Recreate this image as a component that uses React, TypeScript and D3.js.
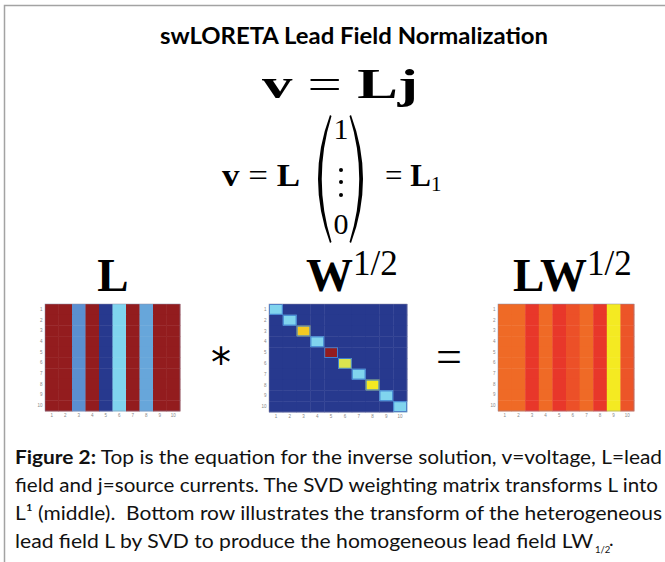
import React, { useEffect, useRef } from 'react'
import * as d3 from 'd3'

// values on a 0..1 colour scale (jet-like)
const ticks = [1, 2, 3, 4, 5, 6, 7, 8, 9, 10]
const leadField = [1, 1, 0.3, 1, 0, 0.42, 1, 0.34, 1, 1]
const weightDiag = [0.42, 0.42, 0.64, 0.42, 1, 0.56, 0.42, 0.6, 0.42, 0.42]
const weighted = [0.75, 0.75, 0.87, 0.75, 0.87, 0.81, 0.75, 0.87, 0.6, 0.8]

const captionLines = [
  ['Figure 2:', ' Top is the equation for the inverse solution, v=voltage, L=lead'],
  ['', 'field and j=source currents. The SVD weighting matrix transforms L into'],
  ['', 'L¹ (middle).\u00a0 Bottom row illustrates the transform of the heterogeneous'],
  ['', 'lead field L by SVD to produce the homogeneous lead field LW'],
]
const captionWidths = [647, 643, 647, 578]

const colour = d3
  .scaleLinear<string>()
  .domain([0, 0.3, 0.42, 0.6, 0.75, 0.87, 1])
  .range(['#27398e', '#5b8fd0', '#80d4ee', '#f4ea22', '#ef6a26', '#e8372a', '#931c1e'])

const App = () => {
  const svgRef = useRef<SVGSVGElement>(null)

  useEffect(() => {
    const svg = d3.select(svgRef.current)
    svg.selectAll('*').remove()

    // frame
    svg.append('path')
      .attr('d', 'M4.5,562 L4.5,5.5 L665,5.5')
      .attr('fill', 'none')
      .attr('stroke', '#a3a3a3')
      .attr('stroke-width', 1.5)

    // title
    svg.append('text')
      .attr('x', 354).attr('y', 44)
      .attr('text-anchor', 'middle')
      .attr('font-family', 'Lato, "Open Sans", sans-serif')
      .attr('font-weight', 'bold')
      .attr('font-size', 23)
      .attr('textLength', 388)
      .attr('lengthAdjust', 'spacingAndGlyphs')
      .text('swLORETA Lead Field Normalization')

    const serif = '"Liberation Serif", "DejaVu Serif", serif'

    // v = Lj
    const eq1 = svg.append('text')
      .attr('x', 262).attr('y', 98)
      .attr('font-family', serif)
      .attr('font-size', 42)
      .attr('textLength', 156)
      .attr('lengthAdjust', 'spacingAndGlyphs')
    eq1.append('tspan').attr('font-weight', 'bold').text('v')
    eq1.append('tspan').text(' = ')
    eq1.append('tspan').attr('font-weight', 'bold').text('Lj')

    // v = L (1 ... 0) = L1
    const eq2 = svg.append('text')
      .attr('x', 222).attr('y', 186)
      .attr('font-family', serif)
      .attr('font-size', 31)
      .attr('textLength', 78)
      .attr('lengthAdjust', 'spacingAndGlyphs')
    eq2.append('tspan').attr('font-weight', 'bold').text('v')
    eq2.append('tspan').text(' = ')
    eq2.append('tspan').attr('font-weight', 'bold').text('L')

    // big parentheses of the column vector
    const paren = (x0: number, dir: number) => {
      const p = d3.path()
      p.moveTo(x0 + dir * 12, 115)
      p.quadraticCurveTo(x0 - dir * 12, 179, x0 + dir * 12, 243)
      p.lineTo(x0 + dir * 13.5, 242)
      p.quadraticCurveTo(x0 - dir * 6, 179, x0 + dir * 13.5, 116)
      p.closePath()
      return p.toString()
    }
    svg.append('path').attr('d', paren(318, 1)).attr('fill', '#000')
    svg.append('path').attr('d', paren(363, -1)).attr('fill', '#000')

    svg.append('text').attr('x', 341).attr('y', 139).attr('text-anchor', 'middle')
      .attr('font-family', serif).attr('font-size', 30).text('1')
    svg.append('text').attr('x', 341).attr('y', 234).attr('text-anchor', 'middle')
      .attr('font-family', serif).attr('font-size', 30).text('0')
    svg.selectAll('circle.vdot').data([170, 182, 195]).enter().append('circle')
      .attr('class', 'vdot').attr('cx', 341).attr('cy', (d) => d).attr('r', 2)

    const eq3 = svg.append('text')
      .attr('x', 385).attr('y', 186)
      .attr('font-family', serif)
      .attr('font-size', 31)
    eq3.append('tspan').text('= ')
    eq3.append('tspan').attr('font-weight', 'bold').text('L')
    eq3.append('tspan').attr('font-size', 21).attr('dy', 5).text('1')

    // row labels
    svg.append('text').attr('x', 113).attr('y', 291).attr('text-anchor', 'middle')
      .attr('font-family', serif).attr('font-weight', 'bold').attr('font-size', 47).text('L')
    const wl = svg.append('text').attr('x', 306).attr('y', 291)
      .attr('font-family', serif).attr('font-size', 47)
    wl.append('tspan').attr('font-weight', 'bold').text('W')
    wl.append('tspan').attr('font-size', 35).attr('dy', -16).text('1/2')
    const lwl = svg.append('text').attr('x', 513).attr('y', 291)
      .attr('font-family', serif).attr('font-size', 47)
    lwl.append('tspan').attr('font-weight', 'bold').text('LW')
    lwl.append('tspan').attr('font-size', 35).attr('dy', -16).text('1/2')

    // operators
    svg.append('text').attr('x', 221).attr('y', 377).attr('text-anchor', 'middle')
      .attr('font-family', '"DejaVu Sans", sans-serif').attr('font-size', 40).text('*')
    svg.append('text').attr('x', 449).attr('y', 372).attr('text-anchor', 'middle')
      .attr('font-family', serif).attr('font-size', 46).text('=')

    // heatmaps
    const drawMap = (
      x0: number, x1: number, y0: number, y1: number,
      cellValue: (r: number, c: number) => number,
      outlineDiag: boolean
    ) => {
      const xs = d3.scaleBand<number>().domain(ticks).range([x0, x1])
      const ys = d3.scaleBand<number>().domain(ticks).range([y0, y1])
      const g = svg.append('g')
      const cells: { r: number; c: number; v: number }[] = []
      ticks.forEach((r) => ticks.forEach((c) => cells.push({ r, c, v: cellValue(r, c) })))
      g.selectAll('rect').data(cells).enter().append('rect')
        .attr('x', (d) => xs(d.c)!)
        .attr('y', (d) => ys(d.r)!)
        .attr('width', xs.bandwidth() + 0.4)
        .attr('height', ys.bandwidth() + 0.4)
        .attr('fill', (d) => colour(d.v))
      if (outlineDiag) {
        g.selectAll('rect.diag').data(ticks).enter().append('rect')
          .attr('class', 'diag')
          .attr('x', (d) => xs(d)! + 0.5)
          .attr('y', (d) => ys(d)! + 0.5)
          .attr('width', xs.bandwidth() - 1)
          .attr('height', ys.bandwidth() - 1)
          .attr('fill', 'none')
          .attr('stroke', '#3f7fd0')
          .attr('stroke-width', 1)
      }
      g.append('rect').attr('x', x0).attr('y', y0).attr('width', x1 - x0).attr('height', y1 - y0)
        .attr('fill', 'none').attr('stroke', '#8a8aa8').attr('stroke-width', 0.5)
      g.selectAll('text.xt').data(ticks).enter().append('text')
        .attr('class', 'xt')
        .attr('x', (d) => xs(d)! + xs.bandwidth() / 2)
        .attr('y', y1 + 6)
        .attr('text-anchor', 'middle')
        .attr('font-family', 'Arial, sans-serif')
        .attr('font-size', 4.5)
        .attr('fill', '#888')
        .text((d) => d)
      g.selectAll('text.yt').data(ticks).enter().append('text')
        .attr('class', 'yt')
        .attr('x', x0 - 2.5)
        .attr('y', (d) => ys(d)! + ys.bandwidth() / 2 + 1.5)
        .attr('text-anchor', 'end')
        .attr('font-family', 'Arial, sans-serif')
        .attr('font-size', 4.5)
        .attr('fill', '#888')
        .text((d) => d)
    }

    drawMap(45, 180, 304, 411, (_r, c) => leadField[c - 1], false)
    drawMap(269, 407, 304, 412, (r, c) => (r === c ? weightDiag[r - 1] : 0), true)
    drawMap(498, 634, 304, 411, (_r, c) => weighted[c - 1], false)

    // caption
    const sans = 'Lato, "Open Sans", sans-serif'
    captionLines.forEach(([bold, rest], i) => {
      const t = svg.append('text')
        .attr('x', 15).attr('y', 464 + i * 28)
        .attr('font-family', sans)
        .attr('font-size', 19.5)
        .attr('fill', '#111')
        .attr('textLength', captionWidths[i])
        .attr('lengthAdjust', 'spacingAndGlyphs')
      if (bold) t.append('tspan').attr('font-weight', 'bold').text(bold)
      t.append('tspan').text(rest)
    })
    svg.append('text').attr('x', 595).attr('y', 553)
      .attr('font-family', sans).attr('font-size', 9.5).attr('fill', '#111').text('1/2')
    svg.append('text').attr('x', 609).attr('y', 546)
      .attr('font-family', sans).attr('font-size', 19.5).attr('fill', '#111').text('.')
  }, [])

  return <svg ref={svgRef} width={665} height={562} style={{ position: 'absolute', left: 0, top: 0, background: '#fff' }} />
}

export default App
